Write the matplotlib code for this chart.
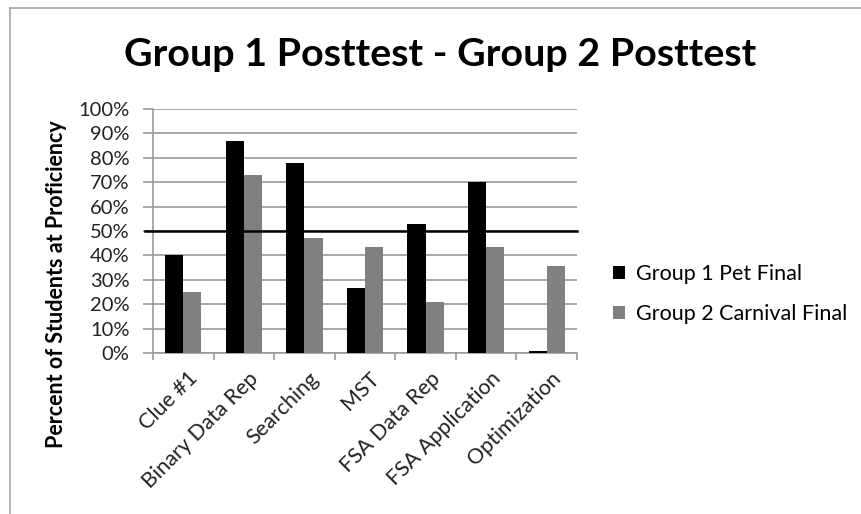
import matplotlib
matplotlib.use("Agg")
import matplotlib.pyplot as plt
import numpy as np
from matplotlib.lines import Line2D
from matplotlib.patches import Patch

plt.rcParams['font.family'] = ['Lato', 'DejaVu Sans']

categories = ["Clue #1", "Binary Data Rep", "Searching", "MST", "FSA Data Rep",
              "FSA Application", "Optimization"]
group1 = [40, 87, 78, 26.5, 53, 70, 1]
group2 = [25, 73, 47, 43.3, 21, 43.3, 35.8]
series_names = ["Group 1 Pet Final", "Group 2 Carnival Final"]
yticks = [0, 10, 20, 30, 40, 50, 60, 70, 80, 90, 100]
threshold = 50
title = "Group 1 Posttest - Group 2 Posttest"
ylabel = "Percent of Students at Proficiency"

W, H = 862, 514
fig = plt.figure(figsize=(W / 100, H / 100), dpi=100)
ax = fig.add_axes([153 / W, 1 - 353 / H, (577 - 153) / W, (353 - 109) / H])

x = np.arange(len(categories))
bw = 0.3
ax.bar(x - bw / 2, group1, bw, color="#000000", zorder=3)
ax.bar(x + bw / 2, group2, bw, color="#808080", zorder=3)

ax.set_xlim(-0.5, len(categories) - 0.5)
ax.set_ylim(0, 100)
ax.set_yticks(yticks)
ax.set_yticklabels([f"{v}%" for v in yticks], fontsize=14.5, color="#222222")
ax.yaxis.grid(True, color="#9a9a9a", linewidth=1.2, zorder=0)
ax.tick_params(axis="y", length=7, color="#9a9a9a", width=1.2, pad=10)

ax.set_xticks(np.arange(-0.5, len(categories), 1.0))
ax.set_xticklabels([])
ax.tick_params(axis="x", length=5, color="#9a9a9a", width=1.2, direction="out")
for xi, lab in zip(x, categories):
    ax.annotate(lab, xy=(xi, 0), xycoords=("data", "axes fraction"),
                xytext=(3, -11), textcoords="offset points",
                rotation=45, ha="right", va="top", rotation_mode="anchor",
                fontsize=15.5, color="#222222")

for s in ["top", "right"]:
    ax.spines[s].set_visible(False)
for s in ["left", "bottom"]:
    ax.spines[s].set_color("#9a9a9a")
    ax.spines[s].set_linewidth(1.2)

trans = ax.get_yaxis_transform()
ax.plot([-0.02, 1.0], [threshold, threshold], color="black", linewidth=1.8,
        transform=trans, clip_on=False, zorder=4)

fig.text(57 / W, 1 - 284 / H, ylabel, rotation=90, ha="center", va="center",
         fontsize=15.5, fontweight="bold", color="#000000")
fig.text(440 / W, 1 - 55 / H, title, ha="center", va="center",
         fontsize=28.4, fontweight="bold", color="#000000")

handles = [Patch(facecolor="#000000"), Patch(facecolor="#808080")]
fig.legend(handles, series_names, loc="center left",
           bbox_to_anchor=(598 / W, 1 - 294 / H), frameon=False,
           fontsize=15.5, handlelength=0.55, handleheight=0.55,
           handletextpad=0.5, labelspacing=0.9, borderpad=0.2)

# chart border (top and left visible)
fig.add_artist(Line2D([10 / W, 1], [1 - 8 / H, 1 - 8 / H], color="#a8a8a8",
                      linewidth=1.2, transform=fig.transFigure))
fig.add_artist(Line2D([10 / W, 10 / W], [0, 1 - 8 / H], color="#a8a8a8",
                      linewidth=1.2, transform=fig.transFigure))

fig.savefig("out.png", dpi=100)
